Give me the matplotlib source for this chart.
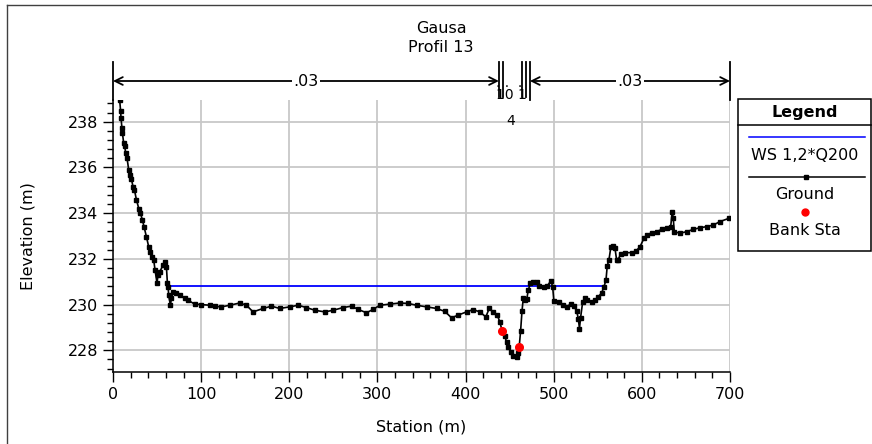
import matplotlib
matplotlib.use("Agg")
import matplotlib.pyplot as plt
from matplotlib.ticker import MultipleLocator
from matplotlib.lines import Line2D
from matplotlib.patches import Rectangle

# ground survey points (station m, elevation m)
station = [7.6, 8.7, 9.1, 10.2, 10.7, 12.1, 13.3, 14.4, 15.9, 17.8, 19.0, 20.9, 22.7, 24.3,
           26.6, 29.5, 31.1, 33.4, 35.2, 37.9, 40.5, 42.4, 44.3, 46.2, 47.7, 49.9, 51.1, 53.0,
           56.8, 59.0, 60.6, 61.7, 62.5, 63.2, 65.1, 66.3, 68.1, 71.2, 75.7, 81.4, 85.1, 92.7,
           100.3, 109.8, 116.0, 123.0, 132.5, 143.8, 151.4, 158.9, 170.3, 179.8, 189.2, 200.6,
           210.0, 219.5, 229.0, 240.3, 249.7, 261.1, 270.6, 278.1, 287.6, 295.1, 302.7, 314.1,
           325.4, 334.9, 344.4, 355.7, 367.1, 376.5, 384.1, 391.6, 401.1, 408.6, 416.2, 423.0,
           426.8, 431.3, 435.9, 438.9, 441.6, 444.6, 446.5, 448.4, 451.1, 454.0, 457.9, 459.7,
           460.8, 462.4, 464.0, 465.5, 467.5, 469.5, 471.1, 473.5, 476.7, 480.6, 483.6, 488.5,
           492.8, 496.8, 498.8, 500.2, 506.5, 510.8, 514.6, 519.2, 522.9, 526.0, 527.9, 529.2,
           530.5, 532.8, 535.4, 538.0, 543.0, 546.8, 550.5, 554.4, 557.0, 559.3, 560.7, 562.7,
           564.9, 566.9, 569.5, 571.4, 573.2, 575.9, 580.8, 588.4, 593.3, 597.9, 602.4, 605.4,
           611.1, 616.8, 622.5, 628.2, 632.7, 634.5, 635.6, 636.8, 643.2, 650.8, 658.4, 666.0,
           673.6, 681.1, 688.6, 699.2]
elevation = [238.93, 238.45, 238.16, 237.72, 237.50, 237.07, 236.92, 236.63, 236.41, 235.90,
             235.68, 235.49, 235.16, 235.02, 234.58, 234.17, 234.00, 233.70, 233.41, 232.97,
             232.53, 232.31, 232.09, 231.95, 231.51, 230.95, 231.29, 231.43, 231.73, 231.87,
             231.65, 230.95, 230.78, 230.41, 229.97, 230.27, 230.56, 230.51, 230.41, 230.27,
             230.19, 230.02, 230.00, 229.97, 229.92, 229.90, 229.97, 230.07, 229.97, 229.68,
             229.83, 229.93, 229.83, 229.90, 229.97, 229.87, 229.75, 229.68, 229.75, 229.87,
             229.93, 229.79, 229.64, 229.79, 229.97, 230.02, 230.07, 230.05, 229.97, 229.90,
             229.83, 229.70, 229.42, 229.54, 229.68, 229.78, 229.68, 229.46, 229.83, 229.68,
             229.54, 229.24, 228.83, 228.61, 228.36, 228.14, 227.93, 227.74, 227.71, 227.86,
             228.14, 228.83, 229.70, 230.30, 230.20, 230.25, 230.63, 230.93, 231.00, 231.00,
             230.80, 230.75, 230.82, 231.04, 230.78, 230.14, 230.10, 229.97, 229.90, 230.02,
             229.93, 229.72, 229.39, 228.95, 229.43, 230.10, 230.27, 230.19, 230.12, 230.19,
             230.34, 230.51, 230.78, 231.07, 231.68, 231.97, 232.53, 232.56, 232.46, 231.95,
             231.97, 232.21, 232.27, 232.27, 232.34, 232.53, 232.90, 233.04, 233.14, 233.19,
             233.29, 233.33, 233.41, 234.07, 233.78, 233.19, 233.12, 233.19, 233.29, 233.36,
             233.41, 233.48, 233.63, 233.78]

bank_sta = [441.6, 460.8]
bank_elev = [228.83, 228.14]

ws_sta = [62.5, 558.0]
ws_elev = 230.81

# manning n sections
n_breaks = [0, 437.8, 442.7, 463.6, 468.5, 473.0, 700]
n_labels = [".03", ".03"]

title = "Gausa\nProfil 13"

W, H = 872, 444
FS = 11.5

plt.rcParams['font.family'] = ['DejaVu Sans']

fig = plt.figure(figsize=(W / 100, H / 100), dpi=100)
ax = fig.add_axes([113 / W, 1 - 372 / H, 617 / W, 272 / H])

def fx(px):
    return px / W

def fy(py):
    return 1 - py / H

ax.set_xlim(0, 700)
ax.set_ylim(227.05, 238.95)
ax.xaxis.set_major_locator(MultipleLocator(100))
ax.xaxis.set_minor_locator(MultipleLocator(20))
ax.yaxis.set_major_locator(MultipleLocator(2))
ax.yaxis.set_minor_locator(MultipleLocator(0.4))
ax.grid(True, which='major', color='#c8c8c8', lw=1.3, zorder=0)
ax.set_axisbelow(True)
for s in ['top', 'right']:
    ax.spines[s].set_visible(False)
for s in ['left', 'bottom']:
    ax.spines[s].set_linewidth(1.1)
ax.tick_params(which='major', length=7, width=1.0, labelsize=FS, direction='out')
ax.tick_params(which='minor', length=4, width=1.0, direction='out')
ax.set_xlabel("Station (m)", fontsize=FS, labelpad=13)
ax.set_ylabel("Elevation (m)", fontsize=FS, labelpad=23)

ax.plot(ws_sta, [ws_elev, ws_elev], color='#0000ff', lw=1.3, zorder=3)
ax.plot(station, elevation, color='black', lw=1.2, marker='s', ms=3.4, zorder=4)
ax.plot(bank_sta, bank_elev, 'o', color='red', ms=5.5, zorder=5)

# n-value bracket above plot
tr = ax.get_xaxis_transform()
y_arr = (372 - 81) / 272
y_top = (372 - 62) / 272
for i, b in enumerate(n_breaks):
    y_lo = 1.0 if i in (0, len(n_breaks) - 2, len(n_breaks) - 1) else (372 - 97) / 272
    ax.plot([b, b], [y_lo, y_top], color='black', lw=1.3, transform=tr, clip_on=False)
for (a, b), lab in zip([(n_breaks[0], n_breaks[1]), (n_breaks[-2], n_breaks[-1])], n_labels):
    ax.annotate('', xy=(a, y_arr), xytext=(b, y_arr), xycoords=tr, textcoords=tr,
                arrowprops=dict(arrowstyle='<->', lw=1.3, color='black',
                                shrinkA=0, shrinkB=0, mutation_scale=14))
    ax.text((a + b) / 2, y_arr, lab, transform=tr, ha='center', va='center', fontsize=FS,
            bbox=dict(facecolor='white', edgecolor='none', pad=1))

# squeezed labels of the narrow channel sections
fig.text(fx(496), fy(89), ". .  .\n10 1", ha='left', va='center', fontsize=10,
         linespacing=0.8)
fig.text(fx(510.7), fy(121), "4", ha='center', va='center', fontsize=10)

fig.text(fx(441), fy(38), title, ha='center', va='center', fontsize=FS, linespacing=1.35)

# legend box
fig.add_artist(Rectangle((fx(738), fy(251)), (871 - 738) / W, (251 - 99) / H,
                         transform=fig.transFigure, fill=False, ec='black', lw=1.1))
fig.add_artist(Line2D([fx(738), fx(871)], [fy(125), fy(125)], color='black', lw=1.1))
fig.text(fx(804.5), fy(112), "Legend", ha='center', va='center', fontsize=FS, fontweight='bold')
fig.add_artist(Line2D([fx(749), fx(865)], [fy(136.7), fy(136.7)], color='#0000ff', lw=1.1))
fig.text(fx(805), fy(155), "WS 1,2*Q200", ha='center', va='center', fontsize=FS)
fig.add_artist(Line2D([fx(749), fx(865)], [fy(176.7), fy(176.7)], color='black', lw=1.1))
fig.add_artist(Line2D([fx(806)], [fy(176.7)], color='black', marker='s', ms=3.2))
fig.text(fx(805), fy(194), "Ground", ha='center', va='center', fontsize=FS)
fig.add_artist(Line2D([fx(805)], [fy(211.7)], color='red', marker='o', ms=5, lw=0))
fig.text(fx(805), fy(230), "Bank Sta", ha='center', va='center', fontsize=FS)

# outer frame (top and left edges)
fig.add_artist(Line2D([fx(7), fx(872)], [fy(5), fy(5)], color='#404040', lw=1.0))
fig.add_artist(Line2D([fx(7), fx(7)], [fy(5), fy(444)], color='#404040', lw=1.0))

fig.savefig("out.png", dpi=100)
